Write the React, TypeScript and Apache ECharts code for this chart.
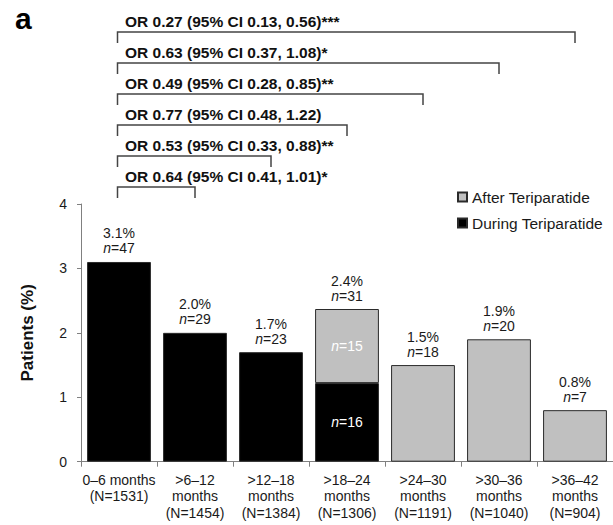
import React, { useEffect, useRef } from "react";
import * as echarts from "echarts";

// Follow-up periods on the x axis
const categories = [
  "0–6 months\n(N=1531)",
  ">6–12\nmonths\n(N=1454)",
  ">12–18\nmonths\n(N=1384)",
  ">18–24\nmonths\n(N=1306)",
  ">24–30\nmonths\n(N=1191)",
  ">30–36\nmonths\n(N=1040)",
  ">36–42\nmonths\n(N=904)",
];

// Percent of patients, split by treatment phase
const duringPct = [3.1, 2.0, 1.7, 1.22, null, null, null];
const afterPct = [null, null, null, 1.15, 1.5, 1.9, 0.8];

// Labels above each bar
const totalPctLabels = ["3.1%", "2.0%", "1.7%", "2.4%", "1.5%", "1.9%", "0.8%"];
const totalN = [47, 29, 23, 31, 18, 20, 7];

// Counts printed inside the split bar segments
const duringSegN = [null, null, null, 16, null, null, null];
const afterSegN = [null, null, null, 15, null, null, null];

// Odds ratios of each period versus 0–6 months (index = compared period)
const oddsRatios = [
  "",
  "OR 0.64 (95% CI 0.41, 1.01)*",
  "OR 0.53 (95% CI 0.33, 0.88)**",
  "OR 0.77 (95% CI 0.48, 1.22)",
  "OR 0.49 (95% CI 0.28, 0.85)**",
  "OR 0.63 (95% CI 0.37, 1.08)*",
  "OR 0.27 (95% CI 0.13, 0.56)***",
];

const yMin = 0;
const yMax = 4;
const yInterval = 1;

const FONT = "'Liberation Sans', Arial, Helvetica, sans-serif";
const GRAY = "#c0c0c0";
const BORDER = "#2a2a2a";

export default function App() {
  const ref = useRef<HTMLDivElement>(null);

  useEffect(() => {
    if (!ref.current) return;
    const chart = echarts.init(ref.current, null, { renderer: "svg" });

    const nRich = {
      p: { fontFamily: FONT, fontSize: 14, color: "#1a1a1a", lineHeight: 15 },
      i: { fontFamily: FONT, fontSize: 14, color: "#1a1a1a", lineHeight: 15, fontStyle: "italic" },
    };
    const whiteRich = {
      p: { fontFamily: FONT, fontSize: 14, color: "#ffffff" },
      i: { fontFamily: FONT, fontSize: 14, color: "#ffffff", fontStyle: "italic" },
    };

    chart.setOption({
      animation: false,
      backgroundColor: "#ffffff",
      textStyle: { fontFamily: FONT },
      grid: { left: 81, top: 204, width: 539, bottom: 63.3, containLabel: false },
      legend: {
        data: ["After Teriparatide", "During Teriparatide"],
        orient: "vertical",
        left: 457,
        top: 188,
        padding: 0,
        itemWidth: 9,
        itemHeight: 9,
        itemGap: 8,
        icon: "rect",
        textStyle: { fontFamily: FONT, fontSize: 15.5, color: "#1a1a1a", lineHeight: 18 },
      },
      xAxis: {
        type: "category",
        data: categories,
        axisLine: { lineStyle: { color: "#808080", width: 1 } },
        axisTick: { show: true, length: 5, lineStyle: { color: "#808080" } },
        axisLabel: {
          interval: 0,
          margin: 10,
          fontFamily: FONT,
          fontSize: 14,
          color: "#1a1a1a",
          lineHeight: 16.5,
          verticalAlign: "top",
        },
      },
      yAxis: {
        type: "value",
        min: yMin,
        max: yMax,
        interval: yInterval,
        name: "Patients (%)",
        nameLocation: "middle",
        nameGap: 45,
        nameTextStyle: { fontFamily: FONT, fontSize: 17, fontWeight: "bold", color: "#111" },
        axisLine: { show: true, lineStyle: { color: "#808080", width: 1 } },
        axisTick: { show: true, length: 4, lineStyle: { color: "#808080" } },
        axisLabel: { margin: 14, fontFamily: FONT, fontSize: 14, color: "#1a1a1a" },
        splitLine: { show: false },
      },
      series: [
        {
          name: "During Teriparatide",
          type: "bar",
          stack: "phase",
          data: duringPct,
          barCategoryGap: "16%",
          itemStyle: { color: "#000000", borderColor: BORDER, borderWidth: 1 },
          label: {
            show: true,
            position: "inside",
            formatter: (p: any) =>
              duringSegN[p.dataIndex] == null ? "" : `{i|n}{p|=${duringSegN[p.dataIndex]}}`,
            rich: whiteRich,
          },
        },
        {
          name: "After Teriparatide",
          type: "bar",
          stack: "phase",
          data: afterPct,
          itemStyle: { color: GRAY, borderColor: BORDER, borderWidth: 1 },
          label: {
            show: true,
            position: "inside",
            formatter: (p: any) =>
              afterSegN[p.dataIndex] == null ? "" : `{i|n}{p|=${afterSegN[p.dataIndex]}}`,
            rich: whiteRich,
          },
        },
        {
          // zero-height cap on each stack, carrying the totals label
          name: "total",
          type: "bar",
          stack: "phase",
          data: totalN.map(() => 0),
          itemStyle: { color: "rgba(0,0,0,0)", borderWidth: 0 },
          label: {
            show: true,
            position: "top",
            distance: 6,
            align: "center",
            formatter: (p: any) =>
              `{p|${totalPctLabels[p.dataIndex]}}\n{i|n}{p|=${totalN[p.dataIndex]}}`,
            rich: nRich,
          },
          emphasis: { disabled: true },
        },
      ],
    });

    // Comparison brackets from the first period to each later period
    const x0 = chart.convertToPixel({ xAxisIndex: 0 }, 0) as number;
    const graphics: any[] = [
      {
        type: "text",
        left: 15,
        top: 3,
        style: { text: "a", fontFamily: FONT, fontSize: 30, fontWeight: "bold", fill: "#000" },
      },
    ];
    for (let k = 1; k < categories.length; k++) {
      const xk = chart.convertToPixel({ xAxisIndex: 0 }, k) as number;
      const y = 187 - (k - 1) * 31;
      graphics.push({
        type: "polyline",
        shape: {
          points: [
            [x0 - 1.5, y + 11],
            [x0 - 1.5, y],
            [xk, y],
            [xk, y + 11],
          ],
        },
        style: { stroke: "#444", lineWidth: 1.5, fill: null },
      });
      graphics.push({
        type: "text",
        x: x0 + 6,
        y: y - 10.5,
        style: {
          text: oddsRatios[k],
          fontFamily: FONT,
          fontSize: 15.5,
          fontWeight: "bold",
          fill: "#111",
          verticalAlign: "middle",
        },
      });
    }
    chart.setOption({ graphic: graphics });

    return () => chart.dispose();
  }, []);

  return (
    <div
      ref={ref}
      style={{ position: "absolute", left: 0, top: 0, width: 613, height: 525 }}
    />
  );
}
